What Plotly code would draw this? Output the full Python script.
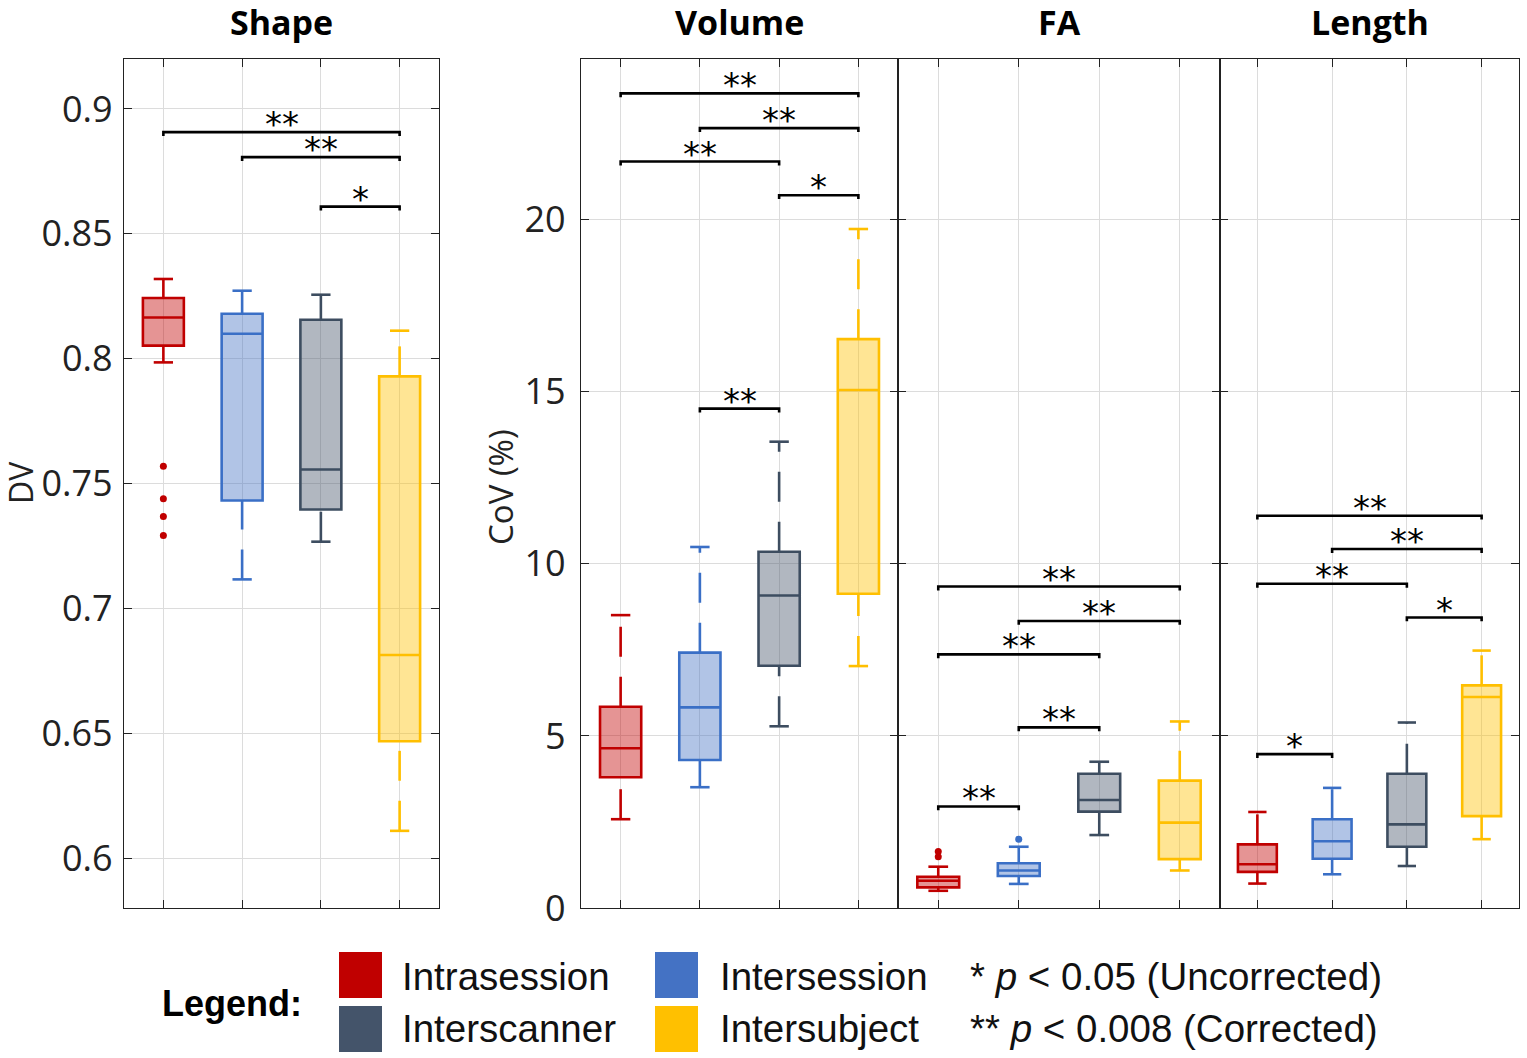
import plotly.graph_objects as go

W, H = 1527, 1058

# ---------------- data ----------------
groups = ["Intrasession", "Intersession", "Interscanner", "Intersubject"]
line_colors = ["#C00000", "#3A6FC6", "#3D4D60", "#FFBF00"]
fill_colors = ["rgba(192,0,0,0.42)", "rgba(68,114,196,0.42)", "rgba(68,84,106,0.42)", "rgba(255,192,0,0.42)"]
legend_colors = ["#C00000", "#4472C4", "#44546A", "#FFC000"]
positions = [1, 2, 3, 4]

panels = ["Shape", "Volume", "FA", "Length"]

shape_lower = [0.7985, 0.7116, 0.7267, 0.6109]
shape_q1 = [0.8052, 0.7432, 0.7396, 0.6468]
shape_median = [0.8165, 0.8100, 0.7556, 0.6813]
shape_q3 = [0.8243, 0.8180, 0.8156, 0.7929]
shape_upper = [0.8319, 0.8272, 0.8256, 0.8112]
shape_outliers = [[0.7569, 0.7439, 0.7368, 0.7292], [], [], []]

volume_lower = [2.58, 3.51, 5.28, 7.03]
volume_q1 = [3.80, 4.30, 7.04, 9.13]
volume_median = [4.64, 5.83, 9.08, 15.05]
volume_q3 = [5.85, 7.42, 10.35, 16.53]
volume_upper = [8.51, 10.49, 13.55, 19.73]
volume_outliers = [[], [], [], []]

fa_lower = [0.50, 0.70, 2.12, 1.09]
fa_q1 = [0.60, 0.93, 2.80, 1.42]
fa_median = [0.79, 1.09, 3.14, 2.48]
fa_q3 = [0.91, 1.30, 3.90, 3.70]
fa_upper = [1.20, 1.78, 4.25, 5.42]
fa_outliers = [[1.64, 1.49], [2.0], [], []]

length_lower = [0.71, 0.98, 1.22, 2.00]
length_q1 = [1.05, 1.43, 1.78, 2.67]
length_median = [1.27, 1.94, 2.43, 6.13]
length_q3 = [1.85, 2.58, 3.90, 6.47]
length_upper = [2.79, 3.49, 5.39, 7.48]
length_outliers = [[], [], [], []]

# significance brackets: from-group, to-group, height, label
shape_sig_from = [1, 2, 3]
shape_sig_to = [4, 4, 4]
shape_sig_y = [0.8907, 0.8807, 0.8609]
shape_sig_label = ["**", "**", "*"]

volume_sig_from = [1, 2, 1, 3, 2]
volume_sig_to = [4, 4, 3, 4, 3]
volume_sig_y = [23.67, 22.66, 21.69, 20.71, 14.51]
volume_sig_label = ["**", "**", "**", "*", "**"]

fa_sig_from = [1, 2, 1, 2, 1]
fa_sig_to = [4, 4, 3, 3, 2]
fa_sig_y = [9.34, 8.34, 7.37, 5.25, 2.95]
fa_sig_label = ["**", "**", "**", "**", "**"]

length_sig_from = [1, 2, 1, 3, 1]
length_sig_to = [4, 4, 3, 4, 2]
length_sig_y = [11.40, 10.43, 9.42, 8.44, 4.47]
length_sig_label = ["**", "**", "**", "*", "*"]

shape_yticks = [0.6, 0.65, 0.7, 0.75, 0.8, 0.85, 0.9]
cov_yticks = [0, 5, 10, 15, 20]
shape_range = [0.58, 0.92]
cov_range = [0, 24.67]

# ---------------- layout geometry (pixels) ----------------
px_domains = [(124, 439), (581, 898), (898, 1220), (1220, 1519)]
top_px, bot_px = 59, 908
BOX_W = 0.52
CAP_W = 0.245

panel_data = [
    (shape_lower, shape_q1, shape_median, shape_q3, shape_upper, shape_outliers,
     shape_sig_from, shape_sig_to, shape_sig_y, shape_sig_label, shape_range),
    (volume_lower, volume_q1, volume_median, volume_q3, volume_upper, volume_outliers,
     volume_sig_from, volume_sig_to, volume_sig_y, volume_sig_label, cov_range),
    (fa_lower, fa_q1, fa_median, fa_q3, fa_upper, fa_outliers,
     fa_sig_from, fa_sig_to, fa_sig_y, fa_sig_label, cov_range),
    (length_lower, length_q1, length_median, length_q3, length_upper, length_outliers,
     length_sig_from, length_sig_to, length_sig_y, length_sig_label, cov_range),
]

FONT = "Open Sans, DejaVu Sans, sans-serif"
LEGFONT = "Liberation Sans, Arial, sans-serif"

fig = go.Figure()
annotations = []
shapes = []

for p, (lo, q1, med, q3, up, outl, sf, st, sy, sl, yr) in enumerate(panel_data):
    xa = "x" if p == 0 else f"x{p+1}"
    ya = "y" if p == 0 else f"y{p+1}"
    for g in range(4):
        pos = positions[g]
        # dashed whiskers (MATLAB style), drawn from low end to high end
        for y0, y1 in ((lo[g], q1[g]), (q3[g], up[g])):
            fig.add_trace(go.Scatter(
                x=[pos, pos], y=[y0, y1], mode="lines",
                line=dict(color=line_colors[g], width=2.6, dash="30px,20px"),
                showlegend=False, hoverinfo="skip", xaxis=xa, yaxis=ya,
            ))
        # whisker caps
        for fence in (lo[g], up[g]):
            fig.add_trace(go.Scatter(
                x=[pos - CAP_W / 2, pos + CAP_W / 2], y=[fence, fence], mode="lines",
                line=dict(color=line_colors[g], width=2.6),
                showlegend=False, hoverinfo="skip", xaxis=xa, yaxis=ya,
            ))
        fig.add_trace(go.Box(
            x=[pos], q1=[q1[g]], median=[med[g]], q3=[q3[g]],
            lowerfence=[q1[g]], upperfence=[q3[g]],
            width=BOX_W, whiskerwidth=0,
            line=dict(color=line_colors[g], width=2.6),
            fillcolor=fill_colors[g],
            boxpoints=False, showlegend=False, hoverinfo="skip",
            xaxis=xa, yaxis=ya,
        ))
        if outl[g]:
            fig.add_trace(go.Scatter(
                x=[pos] * len(outl[g]), y=outl[g], mode="markers",
                marker=dict(color=line_colors[g], size=7),
                showlegend=False, hoverinfo="skip", xaxis=xa, yaxis=ya,
            ))
    drop = (yr[1] - yr[0]) * 0.0045
    for a, b, yv, lab in zip(sf, st, sy, sl):
        fig.add_trace(go.Scatter(
            x=[a, a, b, b], y=[yv - drop, yv, yv, yv - drop], mode="lines",
            line=dict(color="black", width=2.6),
            showlegend=False, hoverinfo="skip", xaxis=xa, yaxis=ya,
        ))
        annotations.append(dict(
            x=(a + b) / 2, y=yv, xref=xa, yref=ya, text=lab, showarrow=False,
            yanchor="bottom", yshift=-14,
            font=dict(family="DejaVu Sans, sans-serif", size=34, color="black"),
        ))

# ---------------- axes ----------------
def xdom(i):
    l, r = px_domains[i]
    return [l / W, r / W]

ydom = [1 - bot_px / H, 1 - top_px / H]

axis_common = dict(
    showline=True, linecolor="#222222", linewidth=1.3, mirror="allticks",
    ticks="inside", ticklen=8, tickwidth=1.3, tickcolor="#222222",
    showgrid=True, gridcolor="#DCDCDC", gridwidth=1, zeroline=False,
    automargin=False,
)

layout_axes = {}
for i in range(4):
    xkey = "xaxis" if i == 0 else f"xaxis{i+1}"
    ykey = "yaxis" if i == 0 else f"yaxis{i+1}"
    layout_axes[xkey] = dict(
        axis_common, domain=xdom(i), range=[0.5, 4.5],
        tickvals=positions, ticktext=["", "", "", ""],
        anchor="y" if i == 0 else f"y{i+1}",
    )
    if i == 0:
        layout_axes[ykey] = dict(
            axis_common, domain=ydom, range=shape_range, tickvals=shape_yticks,
            ticktext=[f"{v:g}" for v in shape_yticks], anchor="x",
            tickfont=dict(family=FONT, size=36, color="#222222"),
            ticklabelstandoff=3,
        )
    else:
        layout_axes[ykey] = dict(
            axis_common, domain=ydom, range=cov_range, tickvals=cov_yticks,
            ticktext=[f"{v:g}" for v in cov_yticks] if i == 1 else [""] * len(cov_yticks),
            anchor=f"x{i+1}",
            tickfont=dict(family=FONT, size=36, color="#222222"),
            ticklabelstandoff=7,
        )

# panel titles
for i, name in enumerate(panels):
    l, r = px_domains[i]
    annotations.append(dict(
        x=(l + r) / 2 / W, y=1 - 22 / H, xref="paper", yref="paper",
        text=f"<b>{name}</b>", showarrow=False, xanchor="center", yanchor="middle",
        font=dict(family=FONT, size=34, color="black"),
    ))

# y-axis titles
annotations.append(dict(x=20 / W, y=1 - 483 / H, xref="paper", yref="paper", text="DV",
                        textangle=-90, showarrow=False, xanchor="center", yanchor="middle",
                        borderpad=0,
                        font=dict(family=FONT, size=32, color="#222222")))
annotations.append(dict(x=500 / W, y=1 - 487 / H, xref="paper", yref="paper", text="CoV (%)",
                        textangle=-90, showarrow=False, xanchor="center", yanchor="middle",
                        font=dict(family=FONT, size=33, color="#222222")))

# ---------------- custom legend ----------------
annotations.append(dict(x=160 / W, y=1 - 1003 / H, xref="paper", yref="paper",
                        text="<b>Legend:</b>", showarrow=False, xanchor="left", yanchor="middle",
                        font=dict(family=LEGFONT, size=36, color="black")))
# (square x, square top y, text x, text centre y) for each group
legend_cells = [(339, 952, 400, 976), (655, 952, 718, 976), (339, 1006, 400, 1028), (655, 1006, 718, 1028)]
for (sx, sy0, tx, ty), g in zip(legend_cells, [0, 1, 2, 3]):
    shapes.append(dict(type="rect", xref="paper", yref="paper",
                       x0=sx / W, x1=(sx + 43) / W, y0=1 - (sy0 + 46) / H, y1=1 - sy0 / H,
                       fillcolor=legend_colors[g], line=dict(width=0)))
    annotations.append(dict(x=tx / W, y=1 - ty / H, xref="paper", yref="paper",
                            text=groups[g], showarrow=False, xanchor="left", yanchor="middle",
                            font=dict(family=LEGFONT, size=38.5, color="#111111")))
annotations.append(dict(x=968 / W, y=1 - 976 / H, xref="paper", yref="paper",
                        text="* <i>p</i> < 0.05 (Uncorrected)", showarrow=False,
                        xanchor="left", yanchor="middle",
                        font=dict(family=LEGFONT, size=38.5, color="#111111")))
annotations.append(dict(x=968 / W, y=1 - 1028 / H, xref="paper", yref="paper",
                        text="** <i>p</i> < 0.008 (Corrected)", showarrow=False,
                        xanchor="left", yanchor="middle",
                        font=dict(family=LEGFONT, size=38.5, color="#111111")))

fig.update_layout(
    width=W, height=H, autosize=False,
    margin=dict(l=0, r=0, t=0, b=0, pad=0, autoexpand=False),
    paper_bgcolor="white", plot_bgcolor="white",
    showlegend=False, annotations=annotations, shapes=shapes,
    **layout_axes,
)

page_fix = (
    "var s=document.createElement('style');"
    "s.innerHTML='html,body{margin:0!important;padding:0!important;overflow:hidden!important;}';"
    "document.head.appendChild(s);"
)
fig.write_html("out.html", config={"displayModeBar": False, "responsive": False}, post_script=page_fix)
